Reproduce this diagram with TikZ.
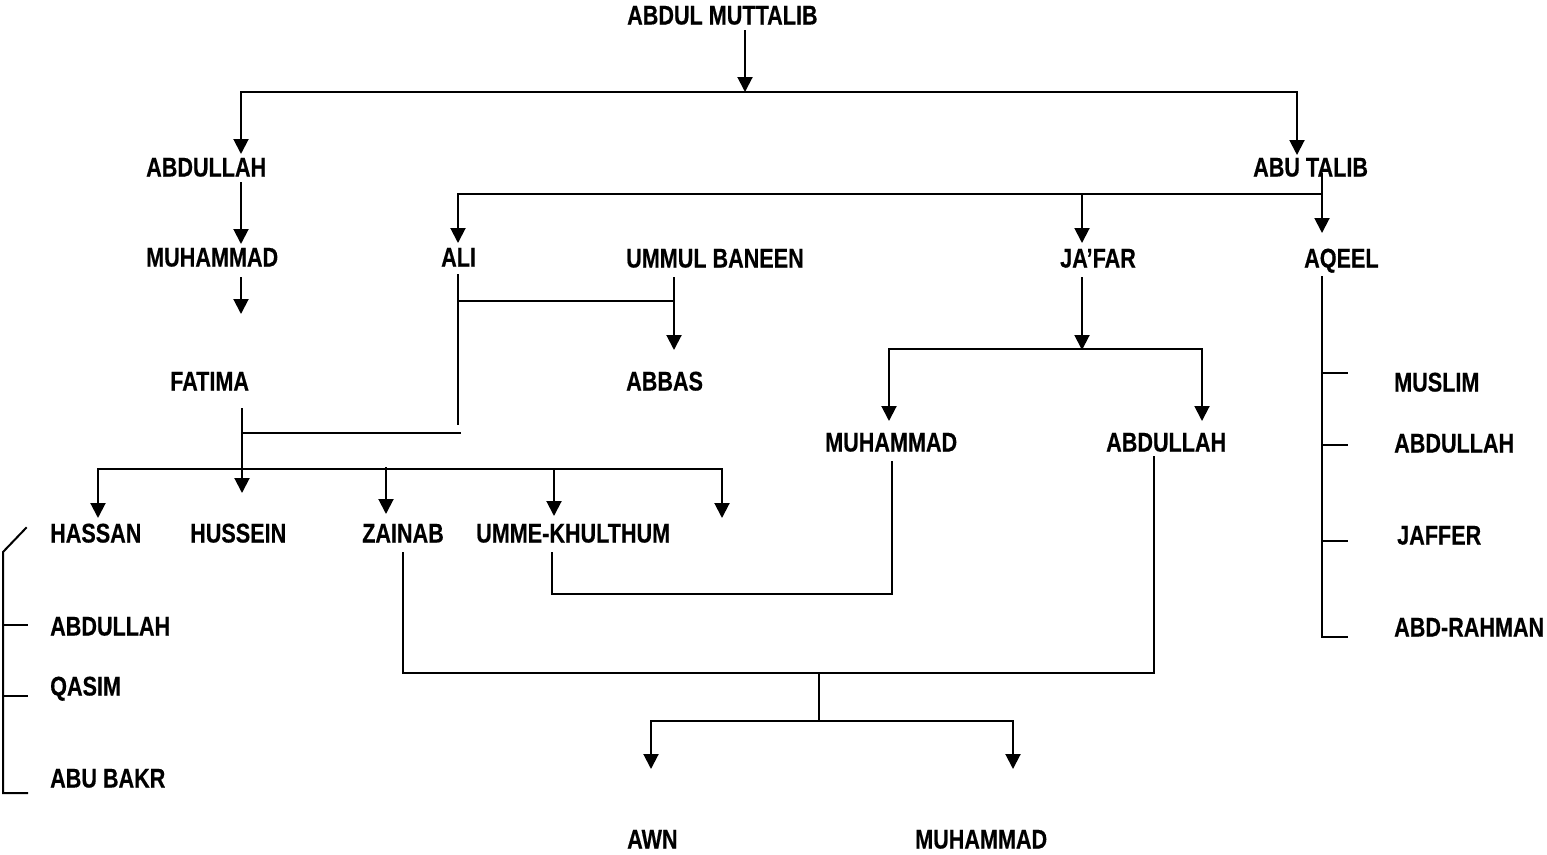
\documentclass[tikz,border=0pt]{standalone}
\usepackage{fontspec}
\setmainfont{Liberation Sans}[FakeStretch=0.8]
\newfontfamily\lblfont{Liberation Sans Bold}[FakeStretch=0.8,FakeBold=0.4]
\usetikzlibrary{arrows.meta}
\tikzset{
  lbl/.style={anchor=west, inner sep=0pt, text height=19pt, text depth=0pt, font=\fontsize{27}{30}\lblfont},
  ln/.style={line width=2pt, line cap=rect},
  arr/.style={line width=2pt, -{Triangle[width=15pt,length=15pt]}}
}
\begin{document}
\begin{tikzpicture}[x=1pt,y=-1pt]
\useasboundingbox (0,0) rectangle (1547,854);
% labels
\node[lbl] (amut) at (627,15) {ABDUL MUTTALIB};
\node[lbl] (abdullah) at (146,167) {ABDULLAH};
\node[lbl] (abutalib) at (1253,167) {ABU TALIB};
\node[lbl] (muhammad) at (146,257) {MUHAMMAD};
\node[lbl] (ali) at (441,257) {ALI};
\node[lbl] (ummul) at (626,258) {UMMUL BANEEN};
\node[lbl] (jafar) at (1060,258) {JA’FAR};
\node[lbl] (aqeel) at (1304,258) {AQEEL};
\node[lbl] (fatima) at (170,381) {FATIMA};
\node[lbl] (abbas) at (626,381) {ABBAS};
\node[lbl] (muslim) at (1394,382) {MUSLIM};
\node[lbl] (jmuhammad) at (825,442) {MUHAMMAD};
\node[lbl] (jabdullah) at (1106,442) {ABDULLAH};
\node[lbl] (aabdullah) at (1394,443) {ABDULLAH};
\node[lbl] (hassan) at (50,533) {HASSAN};
\node[lbl] (hussein) at (190,533) {HUSSEIN};
\node[lbl] (zainab) at (362,533) {ZAINAB};
\node[lbl] (umme) at (476,533) {UMME-KHULTHUM};
\node[lbl] (jaffer) at (1397,535) {JAFFER};
\node[lbl] (habdullah) at (50,626) {ABDULLAH};
\node[lbl] (abdrahman) at (1394,627) {ABD-RAHMAN};
\node[lbl] (qasim) at (50,686) {QASIM};
\node[lbl] (abubakr) at (50,778) {ABU BAKR};
\node[lbl] (awn) at (627,839) {AWN};
\node[lbl] (zmuhammad) at (915,839) {MUHAMMAD};
% coordinates
\coordinate (a0) at (745,30);
\coordinate (a1) at (745,92);
\coordinate (bl) at (241,92);
\coordinate (br) at (1297,92);
\coordinate (tabdullah) at (241,154);
\coordinate (tabutalib) at (1297,155);
\coordinate (babdullah) at (241,182);
\coordinate (tmuhammad) at (241,244);
\coordinate (bmuhammad) at (241,277);
\coordinate (tfatima) at (241,314);
\coordinate (babutalib) at (1322,173);
\coordinate (tl) at (458,194);
\coordinate (tr) at (1322,194);
\coordinate (tj) at (1082,194);
\coordinate (tali) at (458,243);
\coordinate (tjafar) at (1082,243);
\coordinate (taqeel) at (1322,233);
\coordinate (bali) at (458,275);
\coordinate (ali2) at (458,424);
\coordinate (ali3) at (458,301);
\coordinate (um3) at (674,301);
\coordinate (bummul) at (674,277);
\coordinate (tabbas) at (674,350);
\coordinate (f1) at (242,433);
\coordinate (f2) at (460,433);
\coordinate (bfatima) at (242,408);
\coordinate (thussein) at (242,493);
\coordinate (c1) at (98,469);
\coordinate (c2) at (722,469);
\coordinate (thassan) at (98,518);
\coordinate (cz) at (386,467);
\coordinate (tzainab) at (386,514);
\coordinate (cu) at (554,468);
\coordinate (tumme) at (554,516);
\coordinate (t5) at (722,518);
\coordinate (h1) at (26,528);
\coordinate (h2) at (3,552);
\coordinate (h3) at (3,793);
\coordinate (h4) at (27,793);
\coordinate (h5) at (3,625);
\coordinate (h6) at (27,625);
\coordinate (h7) at (3,696);
\coordinate (h8) at (27,696);
\coordinate (bjafar) at (1082,277);
\coordinate (j1) at (1082,350);
\coordinate (jl) at (889,349);
\coordinate (jr) at (1202,349);
\coordinate (tjm) at (889,421);
\coordinate (tja) at (1202,421);
\coordinate (baqeel) at (1322,277);
\coordinate (q1) at (1322,637);
\coordinate (q2) at (1347,637);
\coordinate (q3) at (1322,373);
\coordinate (q4) at (1347,373);
\coordinate (q5) at (1322,445);
\coordinate (q6) at (1347,445);
\coordinate (q7) at (1322,541);
\coordinate (q8) at (1347,541);
\coordinate (bumme) at (552,553);
\coordinate (u1) at (552,594);
\coordinate (u2) at (892,594);
\coordinate (bjm) at (892,462);
\coordinate (bzainab) at (403,553);
\coordinate (z1) at (403,673);
\coordinate (z2) at (1154,673);
\coordinate (bja) at (1154,457);
\coordinate (m1) at (819,673);
\coordinate (m2) at (819,721);
\coordinate (ml) at (651,721);
\coordinate (mr) at (1013,721);
\coordinate (tawn) at (651,769);
\coordinate (tzm) at (1013,769);
% connectors
\draw[arr] (a0) -- (a1);
\draw[ln] (bl) -- (br);
\draw[arr] (bl) -- (tabdullah);
\draw[arr] (br) -- (tabutalib);
\draw[arr] (babdullah) -- (tmuhammad);
\draw[arr] (bmuhammad) -- (tfatima);
\draw[ln] (tl) -- (tr);
\draw[arr] (babutalib) -- (taqeel);
\draw[arr] (tl) -- (tali);
\draw[arr] (tj) -- (tjafar);
\draw[ln] (bali) -- (ali2);
\draw[ln] (ali3) -- (um3);
\draw[arr] (bummul) -- (tabbas);
\draw[ln] (f1) -- (f2);
\draw[arr] (bfatima) -- (thussein);
\draw[ln] (c1) -- (c2);
\draw[arr] (c1) -- (thassan);
\draw[arr] (cz) -- (tzainab);
\draw[arr] (cu) -- (tumme);
\draw[arr] (c2) -- (t5);
\draw[ln] (h1) -- (h2) -- (h3) -- (h4);
\draw[ln] (h5) -- (h6);
\draw[ln] (h7) -- (h8);
\draw[arr] (bjafar) -- (j1);
\draw[ln] (jl) -- (jr);
\draw[arr] (jl) -- (tjm);
\draw[arr] (jr) -- (tja);
\draw[ln] (baqeel) -- (q1) -- (q2);
\draw[ln] (q3) -- (q4);
\draw[ln] (q5) -- (q6);
\draw[ln] (q7) -- (q8);
\draw[ln] (bumme) -- (u1) -- (u2) -- (bjm);
\draw[ln] (bzainab) -- (z1) -- (z2) -- (bja);
\draw[ln] (m1) -- (m2);
\draw[ln] (ml) -- (mr);
\draw[arr] (ml) -- (tawn);
\draw[arr] (mr) -- (tzm);
\end{tikzpicture}
\end{document}
